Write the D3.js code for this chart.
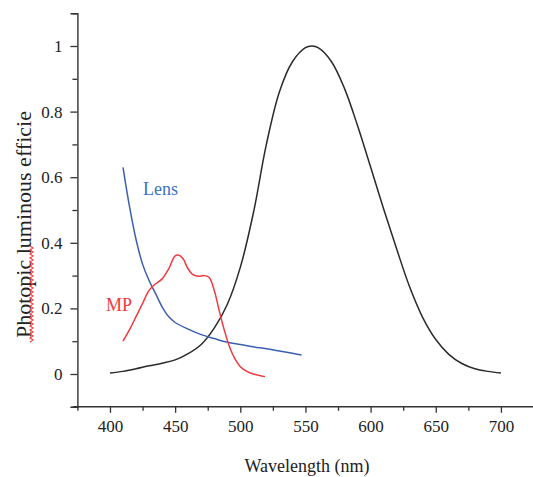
<!DOCTYPE html>
<html lang="en">
<head>
    <meta charset="UTF-8">
    <title>Photopic luminous efficiency</title>
    <style>
        body { margin: 0; background: #fff; }
        text { font-family: "Liberation Serif", "DejaVu Serif", serif; }
    </style>
</head>
<body>
    <svg id="chart" width="533" height="477"></svg>

    <script src="https://d3js.org/d3.v7.min.js"></script>
    <script>
        // photopic V(lambda)
        const photopicNm = [400, 410, 420, 430, 440, 450, 460, 470, 480, 490, 500, 510, 520, 530, 540, 550, 555, 560, 570, 580, 590, 600, 610, 620, 630, 640, 650, 660, 670, 680, 690, 700];
        const photopicVal = [0.003, 0.008, 0.016, 0.025, 0.033, 0.043, 0.062, 0.09, 0.14, 0.212, 0.325, 0.49, 0.70, 0.86, 0.952, 0.995, 1.0, 0.994, 0.952, 0.87, 0.757, 0.631, 0.503, 0.381, 0.265, 0.172, 0.105, 0.06, 0.032, 0.016, 0.008, 0.003];

        // lens
        const lensNm = [410, 415, 420, 425, 430, 435, 440, 445, 450, 460, 470, 480, 490, 500, 510, 520, 530, 540, 547];
        const lensVal = [0.63, 0.51, 0.41, 0.335, 0.285, 0.245, 0.205, 0.175, 0.157, 0.137, 0.12, 0.108, 0.097, 0.09, 0.083, 0.077, 0.07, 0.063, 0.058];

        // macular pigment
        const mpNm = [410, 415, 420, 425, 430, 435, 440, 445, 450, 453, 456, 460, 464, 468, 472, 476, 480, 484, 488, 492, 496, 500, 505, 510, 519];
        const mpVal = [0.10, 0.135, 0.175, 0.215, 0.255, 0.275, 0.29, 0.32, 0.36, 0.362, 0.352, 0.32, 0.302, 0.298, 0.30, 0.295, 0.255, 0.19, 0.13, 0.08, 0.045, 0.022, 0.008, 0.0, -0.008];

        const xMajor = [400, 450, 500, 550, 600, 650, 700];
        const xMinor = [375, 425, 475, 525, 575, 625, 675, 725];
        const yMajor = [0, 0.2, 0.4, 0.6, 0.8, 1];
        const yMinor = [-0.1, 0.1, 0.3, 0.5, 0.7, 0.9, 1.1];

        const svg = d3.select("#chart");

        const x = d3.scaleLinear().domain([375, 725]).range([77.4, 533.5]);
        const y = d3.scaleLinear().domain([-0.1, 1.1]).range([406.8, 13.2]);

        const axisColor = "#333";

        // x axis
        const gx = svg.append("g").attr("transform", `translate(0, ${y(-0.1)})`);
        gx.call(d3.axisBottom(x).tickValues(xMajor).tickSize(6).tickPadding(7).tickFormat(d3.format("")));
        gx.append("g").call(d3.axisBottom(x).tickValues(xMinor).tickSize(4).tickFormat(""))
            .select(".domain").remove();

        // y axis
        const gy = svg.append("g").attr("transform", `translate(${x(375)}, 0)`);
        gy.call(d3.axisLeft(y).tickValues(yMajor).tickSize(7).tickPadding(8).tickFormat(d3.format("")));
        gy.append("g").call(d3.axisLeft(y).tickValues(yMinor).tickSize(5).tickFormat(""))
            .select(".domain").remove();

        svg.selectAll(".domain").attr("stroke", axisColor).attr("stroke-width", 1.4);
        svg.selectAll(".tick line").attr("stroke", axisColor).attr("stroke-width", 1.3);
        svg.selectAll(".tick text")
            .attr("fill", "#222")
            .style("font-family", '"Liberation Serif", serif')
            .style("font-size", "17px");
        // extend x baseline a bit left of the y axis
        gx.select(".domain").attr("d", `M${x(375) - 4},0H${x(725)}`);

        const line = d3.line()
            .x((d) => x(d[0]))
            .y((d) => y(d[1]))
            .curve(d3.curveCatmullRom.alpha(0.5));

        const series = [
            { nm: photopicNm, val: photopicVal, color: "#2a2a2a" },
            { nm: lensNm, val: lensVal, color: "#3c5fb4" },
            { nm: mpNm, val: mpVal, color: "#f03a3e" }
        ];

        series.forEach((s) => {
            svg.append("path")
                .datum(s.nm.map((v, i) => [v, s.val[i]]))
                .attr("fill", "none")
                .attr("stroke", s.color)
                .attr("stroke-width", 1.5)
                .attr("d", line);
        });

        // curve labels
        svg.append("text")
            .attr("x", 143).attr("y", 195)
            .attr("fill", "#3a72c2")
            .style("font-size", "18px")
            .text("Lens");

        svg.append("text")
            .attr("x", 106).attr("y", 311)
            .attr("fill", "#f03a3e")
            .style("font-size", "18px")
            .text("MP");

        // axis titles
        svg.append("text")
            .attr("x", 307).attr("y", 472)
            .attr("text-anchor", "middle")
            .attr("fill", "#222")
            .style("font-size", "18px")
            .text("Wavelength (nm)");

        svg.append("text")
            .attr("transform", "translate(31, 338) rotate(-90)")
            .attr("fill", "#222")
            .style("font-size", "22px")
            .text("Photopic luminous efficie");

        // red wavy underline under "Photopic"
        const wave = d3.range(0, 49).map((i) => [i % 2 === 0 ? 30 : 33, 342 - i * 2]);
        svg.append("path")
            .attr("d", d3.line()(wave))
            .attr("fill", "none")
            .attr("stroke", "#f04040")
            .attr("stroke-width", 1.2);
    </script>
</body>
</html>
